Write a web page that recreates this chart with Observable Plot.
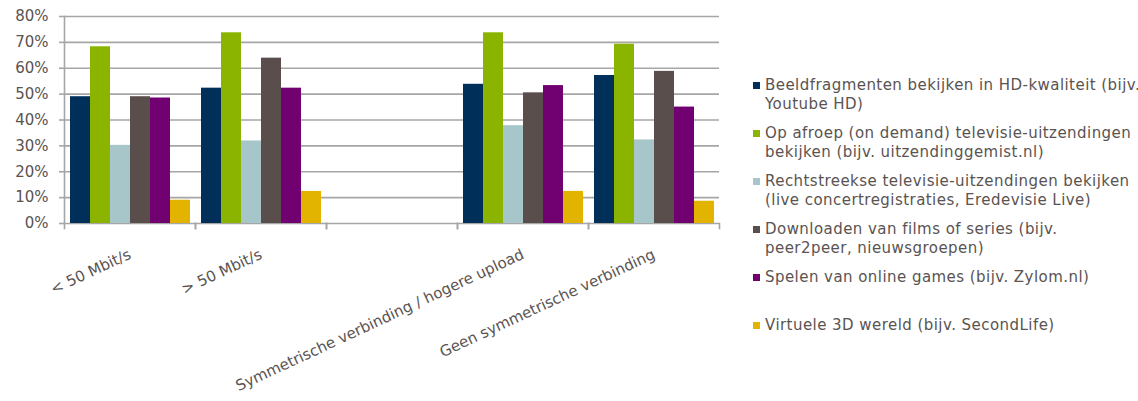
<!DOCTYPE html>
<html><head><meta charset="utf-8">
<script src="https://cdn.jsdelivr.net/npm/d3@7"></script>
<script src="https://cdn.jsdelivr.net/npm/@observablehq/plot@0.6"></script>
<style>
body{margin:0;background:#fff;}
#wrap{position:relative;width:1138px;height:401px;font-family:"DejaVu Sans",Verdana,sans-serif;color:#5a5351;}
#chart{position:absolute;left:0;top:0;}
#legend{position:absolute;left:753px;top:76px;}
.item{height:48px;display:flex;align-items:flex-start;font-size:15px;line-height:18.5px;letter-spacing:0.45px;white-space:nowrap;}
.sw{width:7px;height:7px;margin-top:6px;margin-right:5px;flex:none;}
</style></head><body>
<div id="wrap"><div id="chart"></div><div id="legend"></div></div>
<script>
const categories = ["< 50 Mbit/s", "> 50 Mbit/s", "", "Symmetrische verbinding / hogere upload", "Geen symmetrische verbinding"];
const series = [
  "Beeldfragmenten bekijken in HD-kwaliteit (bijv. Youtube HD)",
  "Op afroep (on demand) televisie-uitzendingen bekijken (bijv. uitzendinggemist.nl)",
  "Rechtstreekse televisie-uitzendingen bekijken (live concertregistraties, Eredevisie Live)",
  "Downloaden van films of series (bijv. peer2peer, nieuwsgroepen)",
  "Spelen van online games (bijv. Zylom.nl)",
  "Virtuele 3D wereld (bijv. SecondLife)"
];
const legendLines = [
  ["Beeldfragmenten bekijken in HD-kwaliteit (bijv.", "Youtube HD)"],
  ["Op afroep (on demand) televisie-uitzendingen", "bekijken (bijv. uitzendinggemist.nl)"],
  ["Rechtstreekse televisie-uitzendingen bekijken", "(live concertregistraties, Eredevisie Live)"],
  ["Downloaden van films of series (bijv.", "peer2peer, nieuwsgroepen)"],
  ["Spelen van online games (bijv. Zylom.nl)"],
  ["Virtuele 3D wereld (bijv. SecondLife)"]
];
const colors = ["#00305a", "#8ab400", "#a6c6ca", "#5a4e4c", "#710070", "#e2b400"];
// values in %, per series across categories (null = empty category)
const hdValues       = [49.0, 52.3, null, 53.8, 57.2];
const onDemandValues = [68.3, 73.7, null, 73.7, 69.3];
const liveValues     = [30.2, 31.9, null, 37.8, 32.3];
const downloadValues = [49.0, 63.9, null, 50.5, 58.8];
const gamesValues    = [48.5, 52.3, null, 53.3, 45.0];
const virtualValues  = [9.0, 12.4, null, 12.4, 8.6];
const yTicks = [0, 10, 20, 30, 40, 50, 60, 70, 80];

const valueSets = [hdValues, onDemandValues, liveValues, downloadValues, gamesValues, virtualValues];
const rows = [];
categories.forEach((c, i) => series.forEach((s, j) => {
  rows.push({category: c, series: s, value: valueSets[j][i]});
}));

const W = 730, H = 401, MT = 16, MB = 178, ML = 63, MR = 10;
const grey = "#a6a6a6";
const plot = Plot.plot({
  width: W, height: H, marginLeft: ML, marginRight: MR, marginTop: MT, marginBottom: MB,
  style: {fontFamily: "'DejaVu Sans', Verdana, sans-serif", color: "#5a5351", background: "white", overflow: "visible"},
  fx: {domain: categories, padding: 0},
  x: {domain: series, paddingInner: 0, paddingOuter: 0.27, axis: null},
  y: {domain: [0, 80]},
  color: {domain: series, range: colors},
  marks: [
    Plot.gridY(yTicks, {stroke: grey, strokeOpacity: 1, strokeWidth: 1.6}),
    Plot.barY(rows, {fx: "category", x: "series", y: "value", fill: "series"}),
    Plot.frame({anchor: "left", facetAnchor: "left", stroke: grey, strokeWidth: 1.6}),
    Plot.frame({anchor: "left", insetTop: H - MT - MB, insetBottom: -5, stroke: grey, strokeWidth: 1.6}),
    Plot.frame({anchor: "right", insetTop: H - MT - MB, insetBottom: -5, stroke: grey, strokeWidth: 1.6}),
    Plot.axisY(yTicks, {tickSize: 5, tickPadding: 11, stroke: grey, strokeWidth: 1.6, tickFormat: d => d + "%", fontSize: 15, label: null}),
    Plot.axisFx({anchor: "bottom", tickSize: 0, tickPadding: 30, tickRotate: -25, fontSize: 15, label: null})
  ]
});
document.getElementById("chart").appendChild(plot);

const legend = d3.select("#legend");
legendLines.forEach((lines, j) => {
  const it = legend.append("div").attr("class", "item");
  it.append("div").attr("class", "sw").style("background", colors[j]);
  it.append("div").html(lines.join("<br>"));
});
</script></body></html>
